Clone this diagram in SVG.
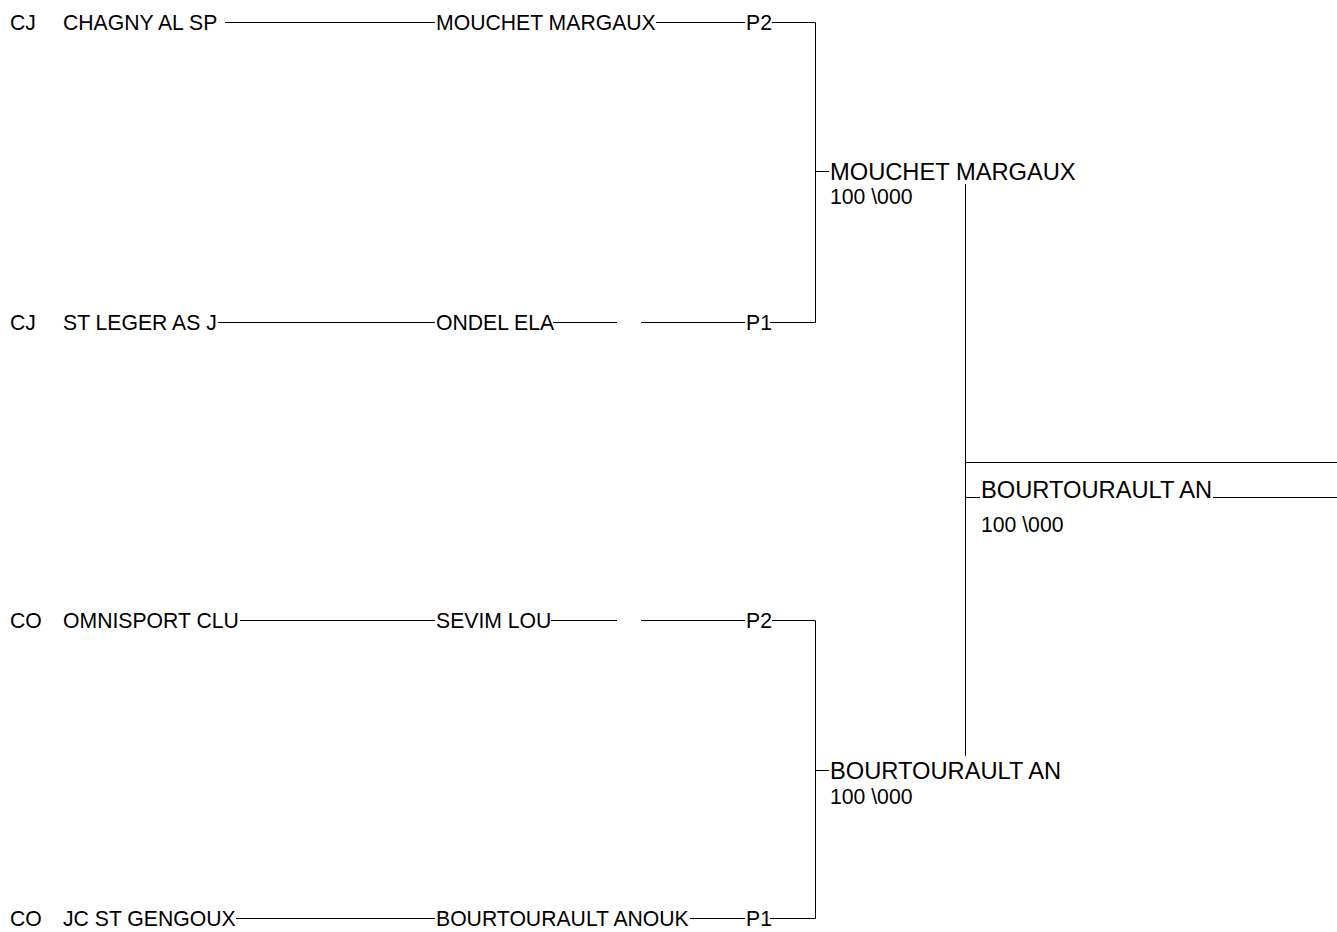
<svg xmlns="http://www.w3.org/2000/svg" width="1337" height="932" viewBox="0 0 1337 932">
<style>
text{font-family:"Liberation Sans",Arial,sans-serif;fill:#000}
.s{font-size:21.2px}
.b{font-size:23.7px}
.c line,.c path{stroke:#000;stroke-width:1;fill:none}
</style>
<rect width="1337" height="932" fill="#fff"/>
<g class="c" id="connectors">
<line x1="225" y1="22.5" x2="435" y2="22.5"/>
<line x1="656" y1="22.5" x2="745" y2="22.5"/>
<path d="M772 22.5H815.5V322.5H770"/>
<line x1="218" y1="322.5" x2="435" y2="322.5"/>
<line x1="553" y1="322.5" x2="617" y2="322.5"/>
<line x1="641" y1="322.5" x2="745" y2="322.5"/>
<line x1="240" y1="620.5" x2="435" y2="620.5"/>
<line x1="551" y1="620.5" x2="617" y2="620.5"/>
<line x1="641" y1="620.5" x2="745" y2="620.5"/>
<path d="M772 620.5H815.5V918.5H770"/>
<line x1="236" y1="918.5" x2="435" y2="918.5"/>
<line x1="690" y1="918.5" x2="745" y2="918.5"/>
<line x1="815.5" y1="171.5" x2="829" y2="171.5"/>
<line x1="815.5" y1="770.5" x2="829" y2="770.5"/>
<line x1="965.5" y1="184" x2="965.5" y2="756"/>
<line x1="965.5" y1="462.5" x2="1337" y2="462.5"/>
<line x1="965.5" y1="497.5" x2="980" y2="497.5"/>
<line x1="1213" y1="497.5" x2="1337" y2="497.5"/>
</g>
<g id="r1"><text class="s" x="10" y="30">CJ</text><text class="s" x="63" y="30">CHAGNY AL SP</text><text class="s" x="436" y="30">MOUCHET MARGAUX</text><text class="s" x="746" y="30">P2</text></g>
<g id="r2"><text class="s" x="10" y="330">CJ</text><text class="s" x="63" y="330">ST LEGER AS J</text><text class="s" x="436" y="330">ONDEL ELA</text><text class="s" x="746" y="330">P1</text></g>
<g id="r3"><text class="s" x="10" y="628">CO</text><text class="s" x="63" y="628">OMNISPORT CLU</text><text class="s" x="436" y="628">SEVIM LOU</text><text class="s" x="746" y="628">P2</text></g>
<g id="r4"><text class="s" x="10" y="926">CO</text><text class="s" x="63" y="926">JC ST GENGOUX</text><text class="s" x="436" y="926">BOURTOURAULT ANOUK</text><text class="s" x="746" y="926">P1</text></g>
<g id="sf1"><text class="b" x="830" y="180">MOUCHET MARGAUX</text><text class="s" x="830" y="204">100 \000</text></g>
<g id="sf2"><text class="b" x="830" y="779">BOURTOURAULT AN</text><text class="s" x="830" y="804">100 \000</text></g>
<g id="final"><text class="b" x="981" y="498">BOURTOURAULT AN</text><text class="s" x="981" y="532">100 \000</text></g>
</svg>
